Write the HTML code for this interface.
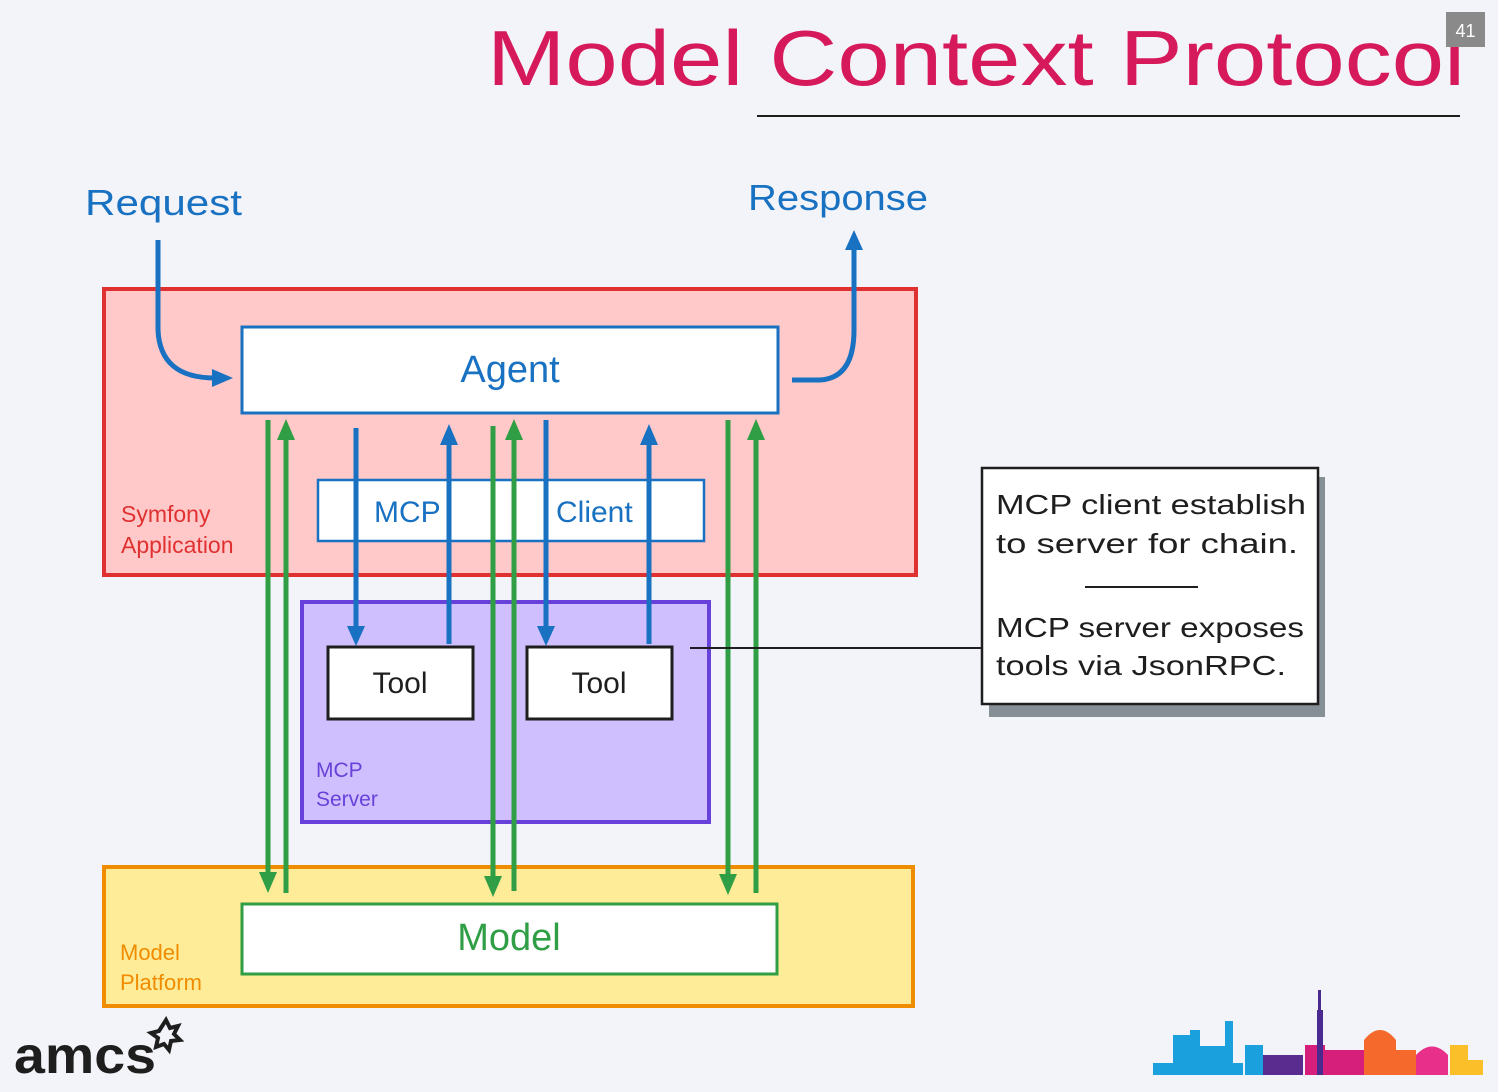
<!DOCTYPE html>
<html><head><meta charset="utf-8"><style>
html,body{margin:0;padding:0;background:#f3f4f9;}
svg{display:block;font-family:"Liberation Sans",sans-serif;}
</style></head><body>
<svg width="1498" height="1092" viewBox="0 0 1498 1092" xmlns="http://www.w3.org/2000/svg">
<defs>
<marker id="ab" markerWidth="10" markerHeight="10" refX="5" refY="5" orient="auto" markerUnits="userSpaceOnUse"><path d="M0,0 L10,5 L0,10 z" fill="#1971c2"/></marker>
</defs>
<rect width="1498" height="1092" fill="#f3f4f9"/>
<text x="487" y="85" font-size="78" fill="#d6195a" textLength="978" lengthAdjust="spacingAndGlyphs">Model Context Protocol</text>
<rect x="1446" y="12" width="39" height="35" fill="#8a8a8a"/>
<text x="1465.5" y="37" font-size="18" fill="#fff" text-anchor="middle">41</text>
<line x1="757" y1="116" x2="1460" y2="116" stroke="#1e1e1e" stroke-width="2"/>

<text x="85" y="215" font-size="36" fill="#1971c2" textLength="157" lengthAdjust="spacingAndGlyphs">Request</text>
<text x="748" y="210" font-size="36" fill="#1971c2" textLength="180" lengthAdjust="spacingAndGlyphs">Response</text>

<rect x="104" y="289" width="812" height="286" fill="#ffc9c9" stroke="#e03131" stroke-width="4"/>
<rect x="242" y="327" width="536" height="86" fill="#fff" stroke="#1971c2" stroke-width="3"/>
<text x="510" y="382" font-size="38" fill="#1971c2" text-anchor="middle">Agent</text>
<rect x="318" y="480" width="386" height="61" fill="#fff" stroke="#1971c2" stroke-width="2.5"/>
<text x="374" y="522" font-size="30" fill="#1971c2">MCP</text>
<text x="556" y="522" font-size="30" fill="#1971c2">Client</text>
<text x="121" y="522" font-size="23" fill="#e03131">Symfony</text>
<text x="121" y="553" font-size="23" fill="#e03131">Application</text>

<rect x="302" y="602" width="407" height="220" fill="#d0bfff" stroke="#6741d9" stroke-width="4"/>
<rect x="328" y="647" width="145" height="72" fill="#fff" stroke="#1e1e1e" stroke-width="3"/>
<text x="400" y="693" font-size="30" fill="#1e1e1e" text-anchor="middle">Tool</text>
<rect x="527" y="647" width="145" height="72" fill="#fff" stroke="#1e1e1e" stroke-width="3"/>
<text x="599" y="693" font-size="30" fill="#1e1e1e" text-anchor="middle">Tool</text>
<text x="316" y="777" font-size="21" fill="#6741d9">MCP</text>
<text x="316" y="806" font-size="21" fill="#6741d9">Server</text>

<rect x="104" y="867" width="809" height="139" fill="#ffec99" stroke="#f08c00" stroke-width="4"/>
<rect x="242" y="904" width="535" height="70" fill="#fff" stroke="#2f9e44" stroke-width="3"/>
<text x="509" y="950" font-size="38" fill="#2f9e44" text-anchor="middle">Model</text>
<text x="120" y="960" font-size="22" fill="#f08c00">Model</text>
<text x="120" y="990" font-size="22" fill="#f08c00">Platform</text>

<g stroke="#2f9e44" stroke-width="5" fill="#2f9e44">
<line x1="268" y1="420" x2="268" y2="878"/><path d="M259,872 L268,893 L277,872z" stroke="none"/>
<line x1="286" y1="893" x2="286" y2="435"/><path d="M277,440 L286,419 L295,440z" stroke="none"/>
<line x1="493" y1="426" x2="493" y2="882"/><path d="M484,876 L493,897 L502,876z" stroke="none"/>
<line x1="514" y1="891" x2="514" y2="435"/><path d="M505,440 L514,419 L523,440z" stroke="none"/>
<line x1="728" y1="420" x2="728" y2="880"/><path d="M719,874 L728,895 L737,874z" stroke="none"/>
<line x1="756" y1="893" x2="756" y2="435"/><path d="M747,440 L756,419 L765,440z" stroke="none"/>
</g>
<g stroke="#1971c2" stroke-width="5" fill="#1971c2">
<line x1="356" y1="428" x2="356" y2="630"/><path d="M347,626 L356,646 L365,626z" stroke="none"/>
<line x1="449" y1="644" x2="449" y2="440"/><path d="M440,445 L449,424 L458,445z" stroke="none"/>
<line x1="546" y1="420" x2="546" y2="630"/><path d="M537,626 L546,646 L555,626z" stroke="none"/>
<line x1="649" y1="644" x2="649" y2="440"/><path d="M640,445 L649,424 L658,445z" stroke="none"/>
</g>
<path d="M158,240 L158,330 Q160,378 215,378" stroke="#1971c2" stroke-width="5" fill="none"/>
<path d="M212,369 L233,378 L212,387z" fill="#1971c2"/>
<path d="M792,380 L820,380 Q854,378 854,330 L854,248" stroke="#1971c2" stroke-width="5" fill="none"/>
<path d="M845,250 L854,230 L863,250z" fill="#1971c2"/>

<line x1="690" y1="648" x2="982" y2="648" stroke="#1e1e1e" stroke-width="2"/>
<rect x="989" y="477" width="336" height="240" fill="#868e96"/>
<rect x="982" y="468" width="336" height="236" fill="#fff" stroke="#1e1e1e" stroke-width="2.5"/>
<g font-size="28" fill="#1e1e1e">
<text x="996" y="514" textLength="310" lengthAdjust="spacingAndGlyphs">MCP client establish</text>
<text x="996" y="553" textLength="302" lengthAdjust="spacingAndGlyphs">to server for chain.</text>
<text x="996" y="637" textLength="308" lengthAdjust="spacingAndGlyphs">MCP server exposes</text>
<text x="996" y="675" textLength="290" lengthAdjust="spacingAndGlyphs">tools via JsonRPC.</text>
</g>
<line x1="1085" y1="587" x2="1198" y2="587" stroke="#1e1e1e" stroke-width="2"/>

<text x="14" y="1073" font-size="52" fill="#1e1e1e" font-weight="bold" textLength="142" lengthAdjust="spacingAndGlyphs">amcs</text>
<path d="M166,1020 l4,8 8,-2 -4,8 6,6 -9,1 -2,9 -5,-6 -8,3 2,-9 -7,-5 8,-2z" fill="none" stroke="#1e1e1e" stroke-width="4"/>

<g>
<rect x="1153" y="1063" width="90" height="12" fill="#1aa0dc"/>
<rect x="1173" y="1035" width="22" height="35" fill="#1aa0dc"/>
<rect x="1190" y="1030" width="10" height="40" fill="#1aa0dc"/>
<rect x="1200" y="1046" width="25" height="25" fill="#1aa0dc"/>
<rect x="1225" y="1021" width="8" height="50" fill="#1aa0dc"/>
<rect x="1245" y="1045" width="18" height="30" fill="#1aa0dc"/>
<rect x="1263" y="1055" width="40" height="20" fill="#5b2c8f"/>
<rect x="1305" y="1045" width="20" height="30" fill="#d61f7a"/>
<rect x="1317" y="1010" width="6" height="65" fill="#4b2a8f"/>
<rect x="1318" y="990" width="3" height="25" fill="#4b2a8f"/>
<rect x="1325" y="1050" width="40" height="25" fill="#d61f7a"/>
<path d="M1364,1075 L1364,1040 Q1380,1020 1396,1040 L1396,1075z" fill="#f56a2c"/>
<rect x="1396" y="1050" width="20" height="25" fill="#f56a2c"/>
<path d="M1416,1075 L1416,1055 Q1432,1038 1448,1055 L1448,1075z" fill="#e8308a"/>
<rect x="1450" y="1045" width="18" height="30" fill="#fbbf2a"/>
<rect x="1466" y="1060" width="17" height="15" fill="#fbbf2a"/>
</g>
</svg>
</body></html>
